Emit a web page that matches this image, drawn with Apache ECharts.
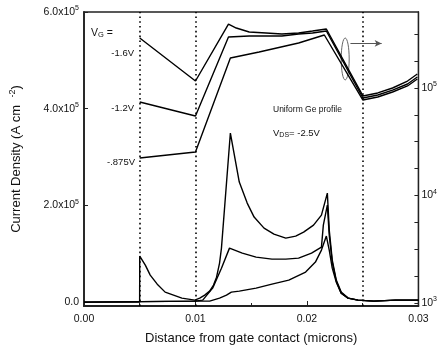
<!DOCTYPE html>
<html><head><meta charset="utf-8">
<script src="https://cdn.jsdelivr.net/npm/echarts@6/dist/echarts.min.js"></script>
<style>html,body{margin:0;padding:0;background:#fff}#c{width:440px;height:352px}</style>
</head><body><div id="c"></div>
<script>
// ---- data (x in microns; left axis in units of 1e5 A/cm2; right axis in decades above the lowest decade) ----
const xTickValues = [0, 0.01, 0.02, 0.03];
const xTickLabels = ['0.00', '0.01', '0.02', '0.03'];
const leftTickValues = [0, 2, 4, 6];
const leftTickMant = ['0.0', '2.0x10', '4.0x10', '6.0x10'];
const leftTickExp = ['', '5', '5', '5'];
const rightMajorValues = [0, 1, 2];
const rightMajorExp = ['3', '4', '5'];
const rightMinorValues = [0, 0.25, 0.5, 0.75, 1, 1.25, 1.5, 1.75, 2, 2.25, 2.5];
const dottedX = [0.005, 0.01, 0.025];

// upper curves (log scale, right axis)
const upX_16 = [0.005, 0.01, 0.01296, 0.01366, 0.01482, 0.01633, 0.01775, 0.01925, 0.0205, 0.02174, 0.02502, 0.02635, 0.02768, 0.02902, 0.0299];
const upY_16 = [2.465, 2.065, 2.595, 2.558, 2.521, 2.512, 2.502, 2.512, 2.530, 2.549, 1.926, 1.954, 2.000, 2.065, 2.130];
const upX_12 = [0.005, 0.01, 0.01296, 0.01482, 0.01775, 0.01925, 0.0205, 0.02174, 0.02502, 0.02635, 0.02768, 0.02902, 0.0299];
const upY_12 = [1.870, 1.740, 2.474, 2.484, 2.484, 2.502, 2.512, 2.530, 1.907, 1.935, 1.981, 2.037, 2.102];
const upX_875 = [0.005, 0.01, 0.01313, 0.01571, 0.01925, 0.02156, 0.02502, 0.02635, 0.02768, 0.02902, 0.0299];
const upY_875 = [1.349, 1.405, 2.279, 2.335, 2.419, 2.493, 1.888, 1.916, 1.963, 2.019, 2.084];

// lower curves (linear scale, left axis, x 1e5)
const loX_16 = [0, 0.00499, 0.005, 0.0055, 0.00594, 0.00657, 0.00728, 0.00878, 0.00994, 0.01038, 0.01083, 0.01127, 0.01162, 0.01189, 0.01216, 0.01233, 0.01313, 0.01393, 0.01464, 0.01526, 0.01615, 0.01704, 0.0181, 0.01899, 0.0197, 0.02059, 0.0213, 0.02183, 0.022, 0.02227, 0.02263, 0.02307, 0.02369, 0.02458, 0.026, 0.02795, 0.03];
const loY_16 = [0, 0, 0.952, 0.766, 0.559, 0.372, 0.207, 0.083, 0.041, 0.083, 0.145, 0.228, 0.352, 0.517, 0.807, 1.117, 3.497, 2.483, 2.048, 1.759, 1.531, 1.407, 1.324, 1.366, 1.448, 1.593, 1.800, 2.255, 1.490, 0.869, 0.455, 0.207, 0.083, 0.041, 0.021, 0.041, 0.041];
const loX_12 = [0, 0.00994, 0.01065, 0.01154, 0.01233, 0.01305, 0.0142, 0.01544, 0.01686, 0.0181, 0.01925, 0.02041, 0.0213, 0.02147, 0.02183, 0.022, 0.02227, 0.02263, 0.02307, 0.02369, 0.02458, 0.026, 0.02795, 0.03];
const loY_12 = [0, 0.021, 0.041, 0.29, 0.70, 1.117, 1.014, 0.931, 0.890, 0.890, 0.910, 1.014, 1.138, 1.593, 2.007, 1.386, 0.828, 0.434, 0.186, 0.083, 0.041, 0.021, 0.041, 0.041];
const loX_875 = [0, 0.01038, 0.01127, 0.01216, 0.01278, 0.01322, 0.01393, 0.01544, 0.01686, 0.01837, 0.01988, 0.02076, 0.0213, 0.02174, 0.022, 0.02227, 0.02263, 0.02307, 0.02369, 0.02458, 0.026, 0.02795, 0.03];
const loY_875 = [0, 0.021, 0.021, 0.083, 0.145, 0.207, 0.228, 0.29, 0.372, 0.455, 0.621, 0.828, 1.076, 1.366, 1.076, 0.703, 0.414, 0.186, 0.083, 0.041, 0.021, 0.041, 0.041];

// annotation anchors (data coords on right axis)
const arrowFrom = [0.0239, 2.415];
const arrowTo = [0.0267, 2.415];
const ellipseCenter = [0.02343, 2.27];

// ---- chart ----
const FONT = '"Liberation Sans", Arial, Helvetica, sans-serif';
const INK = '#111';
const Y_MIN = -0.08, Y_MAX = 6;
const zip = (xs, ys) => xs.map((x, i) => [x, ys[i]]);
const chart = echarts.init(document.getElementById('c'));

const tickRich = {
  m: { fontSize: 10.5, fontFamily: FONT, color: INK, lineHeight: 14 },
  s: { fontSize: 7, fontFamily: FONT, color: INK, lineHeight: 7, verticalAlign: 'top' }
};
const lineStyle = { color: '#000', width: 1.4 };
function curve(name, xs, ys, yAxisIndex, extra) {
  return Object.assign({
    name, type: 'line', data: zip(xs, ys), yAxisIndex, symbol: 'none',
    lineStyle, silent: true, z: 3
  }, extra || {});
}

const option = {
  animation: false,
  backgroundColor: '#fff',
  grid: { left: 83, right: 20, top: 12, bottom: 46, show: true, borderColor: '#222', borderWidth: 1.3, backgroundColor: 'transparent' },
  xAxis: {
    type: 'value', min: 0, max: 0.03, interval: 0.01,
    axisLine: { show: true, onZero: false, lineStyle: { color: '#222', width: 1.8 } },
    axisTick: { show: true, inside: true, length: 5, lineStyle: { color: '#222' } },
    minorTick: { show: true, splitNumber: 2, length: 3, lineStyle: { color: '#222' } },
    splitLine: { show: false },
    axisLabel: {
      margin: 8, fontSize: 10.5, fontFamily: FONT, color: INK,
      formatter: v => { const i = xTickValues.findIndex(t => Math.abs(t - v) < 1e-9); return i >= 0 ? xTickLabels[i] : ''; }
    },
    name: 'Distance from gate contact (microns)', nameLocation: 'middle', nameGap: 26,
    nameTextStyle: { fontSize: 13, fontFamily: FONT, color: INK }
  },
  yAxis: [
    {
      type: 'value', min: Y_MIN, max: Y_MAX, position: 'left',
      axisLine: { show: true, onZero: false, lineStyle: { color: '#222', width: 1.8 } },
      axisTick: { show: true, inside: true, length: 4, customValues: leftTickValues, lineStyle: { color: '#222' } },
      splitLine: { show: false },
      axisLabel: {
        margin: 5, customValues: leftTickValues,
        formatter: v => { const i = leftTickValues.indexOf(v); if (i < 0) return ''; return leftTickExp[i] ? '{m|' + leftTickMant[i] + '}{s|' + leftTickExp[i] + '}' : '{m|' + leftTickMant[i] + '}'; },
        rich: tickRich
      },
      name: '{a|Current Density (A cm}{s|   -2}{a|)}', nameLocation: 'middle', nameGap: 60, nameRotate: 90,
      nameTextStyle: { rich: { a: { fontSize: 13, fontFamily: FONT, color: INK, lineHeight: 16 }, s: { fontSize: 9, fontFamily: FONT, color: INK, lineHeight: 9, verticalAlign: 'top' } } }
    },
    {
      type: 'value', min: -0.028, max: 2.707, position: 'right',
      axisLine: { show: true, onZero: false, lineStyle: { color: '#222', width: 1.3 } },
      axisTick: { show: true, inside: true, length: 4, customValues: rightMinorValues, lineStyle: { color: '#222' } },
      splitLine: { show: false },
      axisLabel: {
        margin: 3, customValues: rightMajorValues,
        formatter: v => { const i = rightMajorValues.indexOf(v); return i < 0 ? '' : '{m|10}{s|' + rightMajorExp[i] + '}'; },
        rich: tickRich
      }
    }
  ],
  series: [
    curve('up -1.6V', upX_16, upY_16, 1, {
      markLine: {
        silent: true, symbol: ['none', 'arrow'], symbolSize: [5, 7], label: { show: false },
        lineStyle: { type: 'solid', color: '#555', width: 1 },
        data: [[{ coord: arrowFrom }, { coord: arrowTo }]]
      }
    }),
    curve('up -1.2V', upX_12, upY_12, 1),
    curve('up -.875V', upX_875, upY_875, 1),
    curve('lo -1.6V', loX_16, loY_16, 0, {
      markLine: {
        silent: true, symbol: ['none', 'none'], label: { show: false },
        lineStyle: { type: [1.6, 3.2], color: '#000', width: 1.6 },
        data: dottedX.map(x => [{ coord: [x, Y_MIN] }, { coord: [x, Y_MAX] }])
      }
    }),
    curve('lo -1.2V', loX_12, loY_12, 0),
    curve('lo -.875V', loX_875, loY_875, 0)
  ],
  graphic: [
    { type: 'text', x: 91, y: 33, style: { text: '{v|V}{g|G}{v| =}', verticalAlign: 'middle', rich: { v: { fontSize: 10.5, fontFamily: FONT, fill: INK, lineHeight: 12 }, g: { fontSize: 7.5, fontFamily: FONT, fill: INK, lineHeight: 7, verticalAlign: 'bottom' } } } },
    { type: 'text', x: 134, y: 53, style: { text: '-1.6V', fontSize: 9.5, fontFamily: FONT, fill: INK, align: 'right', verticalAlign: 'middle' } },
    { type: 'text', x: 134, y: 108, style: { text: '-1.2V', fontSize: 9.5, fontFamily: FONT, fill: INK, align: 'right', verticalAlign: 'middle' } },
    { type: 'text', x: 135, y: 162, style: { text: '-.875V', fontSize: 9.5, fontFamily: FONT, fill: INK, align: 'right', verticalAlign: 'middle' } },
    { type: 'text', x: 273, y: 110, style: { text: 'Uniform Ge profile', fontSize: 8.5, fontFamily: FONT, fill: INK, align: 'left', verticalAlign: 'middle' } },
    { type: 'text', x: 273, y: 133, style: { text: '{v|V}{g|DS}{v|= -2.5V}', verticalAlign: 'middle', rich: { v: { fontSize: 9.5, fontFamily: FONT, fill: INK, lineHeight: 12 }, g: { fontSize: 7, fontFamily: FONT, fill: INK, lineHeight: 7, verticalAlign: 'bottom' } } } }
  ]
};
chart.setOption(option);

const c = chart.convertToPixel({ seriesIndex: 0 }, ellipseCenter);
const cTop = chart.convertToPixel({ seriesIndex: 0 }, [ellipseCenter[0], ellipseCenter[1] + 0.195]);
chart.setOption({
  graphic: option.graphic.concat([{
    type: 'ellipse', silent: true,
    shape: { cx: c[0], cy: c[1], rx: 4, ry: Math.abs(c[1] - cTop[1]) },
    style: { fill: 'none', stroke: '#666', lineWidth: 1 }
  }])
});
</script>
</body></html>
